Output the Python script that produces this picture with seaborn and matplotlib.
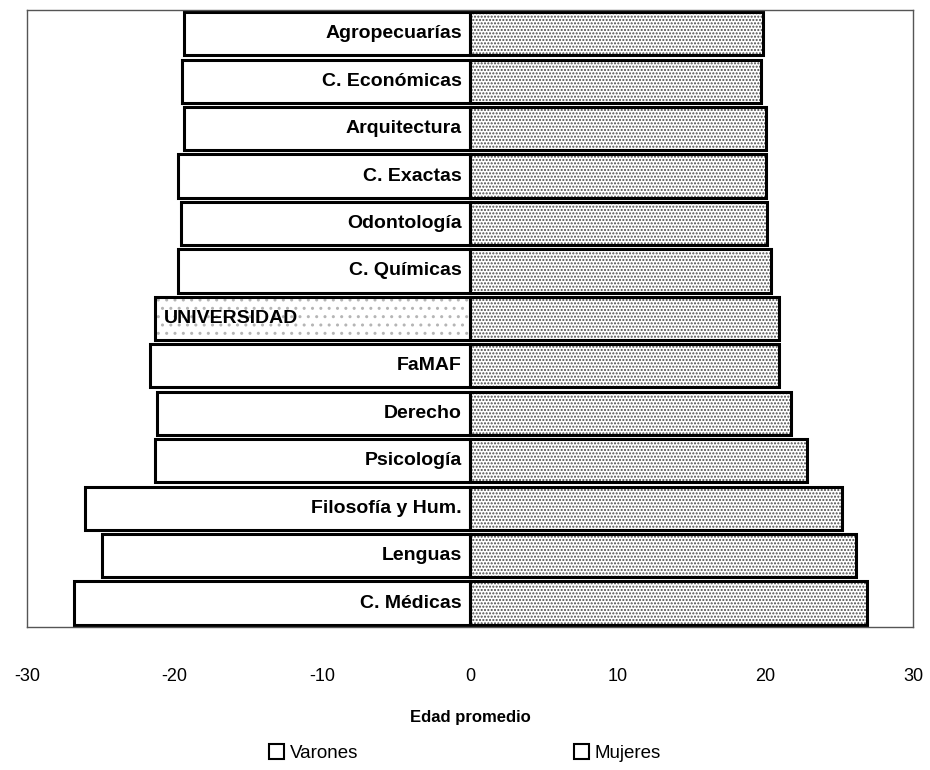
import pandas as pd
import numpy as np
import matplotlib.pyplot as plt
import seaborn as sns
from matplotlib.patches import Patch

# Edad promedio por facultad
facultades = ['Agropecuarías', 'C. Económicas', 'Arquitectura', 'C. Exactas', 'Odontología',
              'C. Químicas', 'UNIVERSIDAD', 'FaMAF', 'Derecho', 'Psicología',
              'Filosofía y Hum.', 'Lenguas', 'C. Médicas']
varones = [19.4, 19.5, 19.4, 19.8, 19.6, 19.8, 21.3, 21.7, 21.2, 21.3, 26.1, 24.9, 26.8]
mujeres = [19.8, 19.7, 20.0, 20.0, 20.1, 20.4, 20.9, 20.9, 21.7, 22.8, 25.2, 26.1, 26.9]
xticks = [-30, -20, -10, 0, 10, 20, 30]

df = pd.DataFrame({'Facultad': facultades,
                   'Varones': [-v for v in varones],
                   'Mujeres': mujeres})

sns.set_theme(style='white')
plt.rcParams['font.family'] = ['Liberation Sans', 'DejaVu Sans']
plt.rcParams['hatch.linewidth'] = 1.0
plt.rcParams['text.color'] = 'black'
plt.rcParams['xtick.color'] = 'black'
plt.rcParams['axes.labelcolor'] = 'black'

fig = plt.figure(figsize=(9.3, 7.7), dpi=100)
ax = fig.add_axes([0.029, 0.186, 0.953, 0.801])

bar_w = 0.91

# stippled fill for mujeres (hatch colour follows the edge colour)
sns.barplot(data=df, x='Mujeres', y='Facultad', orient='h', color='white', saturation=1,
            width=bar_w, ax=ax, linewidth=0, edgecolor='#4a4a4a', hatch='.....')
# varones fill: white, except the UNIVERSIDAD total bar which is lightly stippled
sns.barplot(data=df, x='Varones', y='Facultad', orient='h', color='white', saturation=1,
            width=bar_w, ax=ax, linewidth=0, edgecolor='#b5b5b5')
n = len(facultades)
for i, p in enumerate(ax.patches[n:2 * n]):
    if facultades[i] == 'UNIVERSIDAD':
        p.set_hatch('..')

# black outlines on top
for col in ['Mujeres', 'Varones']:
    sns.barplot(data=df, x=col, y='Facultad', orient='h', color='black', fill=False,
                width=bar_w, ax=ax, linewidth=2.2)

# category labels inside the left bars
for i, name in enumerate(facultades):
    if name == 'UNIVERSIDAD':
        ax.text(-varones[i] + 0.6, i, name, ha='left', va='center',
                fontsize=14, fontweight='bold', color='black')
    else:
        ax.text(-0.55, i, name, ha='right', va='center',
                fontsize=14, fontweight='bold', color='black')

ax.set_xlim(-30, 30)
ax.set_xticks(xticks)
ax.set_xticklabels([str(t) for t in xticks], fontsize=13)
ax.tick_params(axis='x', length=0, pad=30, colors='black')
ax.set_yticks([])
ax.set_ylabel('')
ax.set_xlabel('Edad promedio', fontsize=12, fontweight='bold', labelpad=18)
for s in ax.spines.values():
    s.set_color('#555555')
    s.set_linewidth(1)

handles = [Patch(facecolor='white', edgecolor='black', linewidth=1.5, label='Varones'),
           Patch(facecolor='white', edgecolor='black', linewidth=1.5, label='Mujeres')]
fig.legend(handles=handles, loc='center', bbox_to_anchor=(0.5, 0.022), ncol=2, frameon=False,
           fontsize=13.5, handlelength=0.8, handleheight=0.8, handletextpad=0.3,
           columnspacing=11.5)

plt.savefig('out.png', dpi=100)
plt.close()
